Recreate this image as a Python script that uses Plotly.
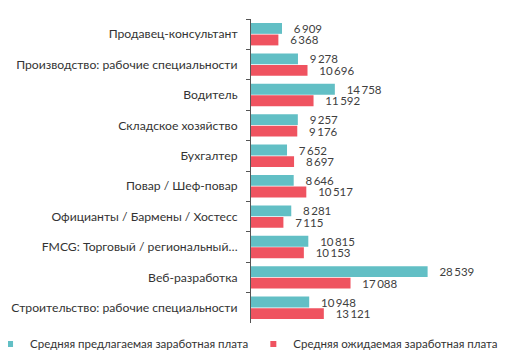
import plotly.graph_objects as go

categories = [
    "Продавец-консультант",
    "Производство: рабочие специальности",
    "Водитель",
    "Складское хозяйство",
    "Бухгалтер",
    "Повар / Шеф-повар",
    "Официанты / Бармены / Хостесс",
    "FMCG: Торговый / региональный…",
    "Веб-разработка",
    "Строительство: рабочие специальности",
]
offered = [6909, 9278, 14758, 9257, 7652, 8646, 8281, 10815, 28539, 10948]
expected = [6368, 10696, 11592, 9176, 8697, 10517, 7115, 10153, 17088, 13121]
series_names = ["Средняя предлагаемая заработная плата", "Средняя ожидаемая заработная плата"]

TEAL = "#62bfc5"
RED = "#ef5360"
FONT = "Lato"
AXIS_START = 2300


def fmt(v):
    return f"{v:,}".replace(",", "\u2009")


fig = go.Figure()
for vals, color in [(offered, TEAL), (expected, RED)]:
    fig.add_trace(go.Bar(
        y=categories, x=[v - AXIS_START for v in vals], base=AXIS_START,
        orientation="h",
        marker=dict(color=color, line=dict(width=0)),
        text=[fmt(v) for v in vals], textposition="outside",
        texttemplate="   %{text}",
        constraintext="none",
        textfont=dict(size=11.5, color="#404040", family=FONT),
        cliponaxis=False, showlegend=False, hoverinfo="skip",
    ))

for name, color in zip(series_names, [TEAL, RED]):
    fig.add_trace(go.Scatter(
        x=[None], y=[None], mode="markers", name=name,
        marker=dict(symbol="square", size=6, color=color),
    ))

# page body has an 8px margin, so the figure is 8px smaller and offset
fig.update_layout(
    width=523, height=352,
    margin=dict(l=243, r=0, t=11, b=37, autoexpand=False),
    paper_bgcolor="white", plot_bgcolor="white",
    barmode="group", bargap=0.24, bargroupgap=0.06,
    font=dict(family=FONT, size=12.2, color="#333333"),
    xaxis=dict(range=[AXIS_START, 43900], visible=False, fixedrange=True),
    yaxis=dict(
        type="category", categoryorder="array", categoryarray=categories,
        range=[len(categories) - 0.5, -0.5], automargin=False,
        showline=True, linecolor="#555555", linewidth=1,
        ticks="outside", tickson="boundaries", ticklen=4, tickcolor="#555555",
        ticklabelstandoff=10,
        tickfont=dict(size=12.2, color="#333333", family=FONT),
        showgrid=False,
    ),
    legend=dict(
        orientation="h", xref="paper", yref="paper",
        x=-0.932, xanchor="left", y=-0.069, yanchor="middle",
        font=dict(size=11.5, color="#333333", family=FONT),
        itemsizing="trace", itemwidth=30, tracegroupgap=0,
    ),
)

fig.write_html("out.html")
